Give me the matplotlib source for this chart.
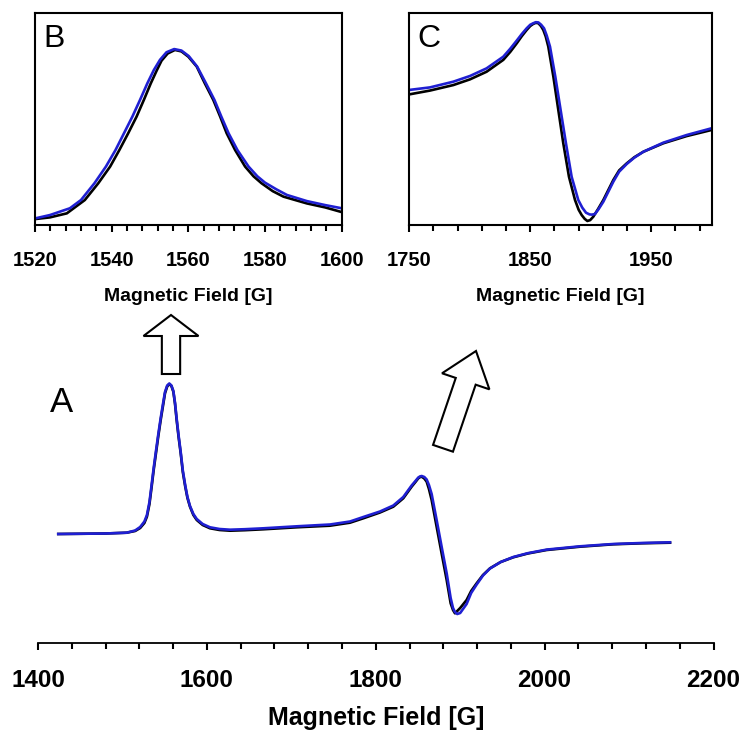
import matplotlib
matplotlib.use('Agg')
import matplotlib.pyplot as plt
import numpy as np
from matplotlib.patches import FancyArrow

BLACK = '#000000'
BLUE = '#1f1fd2'

plt.rcParams['font.family'] = ['Liberation Sans', 'DejaVu Sans']

# Panel A: full spectrum (arbitrary intensity units)
field_a = [1424, 1480, 1505, 1515, 1521, 1526, 1529, 1532, 1534.6, 1537, 1539.7, 1542.5,
           1545.3, 1548, 1550.4, 1553, 1555.5, 1558, 1560.3, 1562.3, 1564.2, 1566.5, 1569,
           1571.5, 1574.4, 1577, 1580, 1584, 1588, 1595, 1603.7, 1615, 1627.4, 1645, 1666.8,
           1706.4, 1745.8, 1769.5, 1785.3, 1805, 1820.8, 1832.6, 1842.5, 1847, 1850.4, 1852.5,
           1854.4, 1857.5, 1860.3, 1863, 1866.2, 1872.1, 1878, 1884, 1888.7, 1891.5, 1893.8,
           1896.5, 1900, 1907.6, 1913, 1919.5, 1927, 1935.3, 1948, 1962.9, 1980, 2002.4,
           2041.9, 2081.4, 2115, 2148.5]
black_a = [0, 0.5, 1.3, 3, 6, 11, 17.3, 30, 47.3, 64, 80.7, 98,
           114, 128, 140.7, 147.5, 150, 148, 142.3, 130, 114, 97, 80.7,
           62, 47.3, 36, 27.3, 19, 14, 9, 5.7, 4, 3.3, 3.8, 4.7,
           6.7, 8.3, 11.3, 15.7, 21.5, 27.3, 35.7, 47.3, 52, 55.7, 56.9,
           57.3, 55.5, 52.3, 45, 34, 7.3, -19.3, -46, -69.3, -76, -79.3,
           -77, -74, -66, -57, -49.3, -41, -34.3, -28, -23.3, -19.5, -16,
           -12.7, -10.3, -9.3, -8.7]
blue_a = [0, 0.5, 1.3, 3.5, 7, 12.5, 19, 32, 49.5, 66, 83, 100,
          116, 130, 142, 148.5, 150.5, 148.5, 143, 131, 115.5, 98.5, 82,
          63.5, 48.5, 37, 28, 20, 15, 10, 6.7, 5, 4.3, 4.8, 5.7,
          7.7, 9.5, 12.5, 17, 22.5, 28.5, 37, 48.5, 53, 56.5, 57.6,
          58, 57, 54.5, 49, 40, 14, -12.6, -39.3, -64, -74, -78,
          -80, -79, -70, -59, -50.5, -41.5, -34.5, -28, -23, -19.2, -15.6,
          -12.3, -10, -9, -8.3]

# Panel B: zoom on the 1556 G line (percent of panel height)
field_b_black = [1520.0, 1523.9, 1528.3, 1533.0, 1536.5, 1539.6, 1542.0, 1544.3, 1546.5,
                 1548.4, 1550.2, 1551.7, 1553.0, 1554.6, 1556.5, 1558.2, 1560.0, 1562.2,
                 1564.3, 1566.5, 1568.3, 1570.0, 1572.2, 1574.8, 1577.0, 1579.1, 1582.0,
                 1584.8, 1590.9, 1595.7, 1600.0]
black_b = [2.8, 3.6, 5.5, 11.8, 19.7, 27.6, 35.4, 43.3, 51.2,
           59.1, 66.9, 72.8, 77.6, 81.0, 82.7, 82.0, 79.5, 74.8,
           66.9, 59.1, 51.2, 43.3, 35.4, 27.6, 23.0, 19.7, 16.0,
           13.4, 10.2, 8.3, 6.1]
field_b_blue = [1520.0, 1523.9, 1529.1, 1532.0, 1535.5, 1538.5, 1541.0, 1543.2, 1545.4,
                1547.4, 1549.3, 1551.0, 1552.6, 1554.3, 1556.3, 1558.2, 1560.1, 1562.3,
                1564.6, 1566.8, 1568.6, 1570.5, 1572.8, 1575.7, 1578.0, 1580.0, 1583.0,
                1585.7, 1590.9, 1595.7, 1600.0]
blue_b = [3.1, 4.7, 7.9, 11.8, 19.7, 27.6, 35.4, 43.3, 51.2,
          59.1, 66.9, 73.2, 78.0, 81.6, 83.1, 82.4, 79.8, 74.8,
          66.9, 59.1, 51.2, 43.3, 35.4, 27.6, 23.0, 20.0, 16.8,
          14.2, 11.3, 9.4, 7.9]

# Panel C: zoom on the derivative-shaped line (percent of panel height)
field_c_black = [1750.0, 1767.1, 1786.4, 1800.2, 1813.9, 1827.7, 1833.5, 1838.8, 1843.0,
                 1847.0, 1850.0, 1852.5, 1854.6, 1856.7, 1858.8, 1860.8, 1862.8, 1864.9,
                 1869.1, 1873.2, 1877.3, 1882.0, 1887.0, 1890.0, 1892.5, 1895.0, 1897.2,
                 1899.5, 1902.1, 1906.0, 1910.4, 1918.7, 1923.5, 1929.7, 1936.0, 1943.5,
                 1960.0, 1979.3, 2000.0]
black_c = [61.7, 63.5, 66.1, 68.8, 72.4, 78.0, 81.8, 85.8, 89.2,
           92.1, 94.0, 95.0, 95.5, 95.3, 94.0, 92.1, 89.0, 84.3,
           70.1, 54.3, 38.6, 22.8, 11.8, 7.2, 4.7, 2.9, 1.9,
           2.3, 3.9, 7.5, 11.8, 21.3, 25.8, 29.1, 32.0, 34.6,
           38.6, 42.0, 44.9]
field_c_blue = [1750.0, 1767.1, 1786.4, 1800.2, 1813.9, 1827.7, 1833.5, 1838.8, 1843.0,
                1847.0, 1850.0, 1852.5, 1854.6, 1856.7, 1859.0, 1861.4, 1863.6, 1866.3,
                1870.7, 1875.1, 1879.5, 1884.2, 1889.7, 1893.0, 1896.1, 1899.0, 1901.0,
                1903.5, 1906.5, 1910.4, 1918.7, 1923.5, 1929.7, 1936.0, 1943.5, 1960.0,
                1979.3, 2000.0]
blue_c = [63.8, 65.0, 67.7, 70.4, 74.0, 79.5, 83.3, 87.1, 90.2,
          92.9, 94.6, 95.3, 95.8, 95.7, 94.6, 92.9, 89.5, 84.3,
          70.1, 54.3, 38.6, 22.8, 11.8, 8.2, 5.8, 5.0, 4.9,
          5.2, 7.5, 11.0, 20.5, 25.2, 28.8, 31.8, 34.6, 38.9,
          42.5, 45.7]

W, H = 752.0, 747.0


def px_axes(fig, left, top, right, bottom):
    return fig.add_axes([left / W, (H - bottom) / H, (right - left) / W, (bottom - top) / H])


fig = plt.figure(figsize=(7.52, 7.47), dpi=100)

# ---- inset panels B and C ----
ax_b = px_axes(fig, 35, 13.3, 341.7, 225)
ax_c = px_axes(fig, 409.3, 13.3, 711.7, 225)

for ax, fb, yb, fu, yu, lim, majors, minors, letter in [
        (ax_b, field_b_black, black_b, field_b_blue, blue_b, (1520, 1600),
         np.arange(1520, 1601, 20), np.arange(1520, 1601, 4), 'B'),
        (ax_c, field_c_black, black_c, field_c_blue, blue_c, (1750, 2000),
         [1750, 1850, 1950], np.arange(1750, 2000, 20), 'C')]:
    ax.plot(fb, yb, color=BLACK, lw=1.9, solid_joinstyle='round')
    ax.plot(fu, yu, color=BLUE, lw=1.9, solid_joinstyle='round')
    ax.set_xlim(*lim)
    ax.set_ylim(0, 100)
    ax.set_xticks(majors)
    ax.set_xticks(minors, minor=True)
    ax.set_yticks([])
    ax.tick_params(axis='x', which='major', direction='out', length=5, width=1.5, pad=14,
                   labelsize=14.5)
    ax.tick_params(axis='x', which='minor', direction='out', length=4, width=1.5)
    for lbl in ax.get_xticklabels():
        lbl.set_fontweight('bold')
    for sp in ax.spines.values():
        sp.set_linewidth(1.5)
    ax.set_xlabel('Magnetic Field [G]', fontsize=14, fontweight='bold', labelpad=13)
    ax.text(0.027, 0.95, letter, transform=ax.transAxes, ha='left', va='top', fontsize=23)

# ---- main panel A ----
ax_a = px_axes(fig, 38, 320, 713.5, 642.7)
ax_a.plot(field_a, black_a, color=BLACK, lw=1.9, solid_joinstyle='round')
ax_a.plot(field_a, blue_a, color=BLUE, lw=1.9, solid_joinstyle='round')
ax_a.set_xlim(1400, 2200)
ax_a.set_ylim(-108.7, 214)
ax_a.set_xticks(np.arange(1400, 2201, 200))
ax_a.set_xticks(np.arange(1400, 2201, 40), minor=True)
ax_a.set_yticks([])
ax_a.tick_params(axis='x', which='major', direction='out', length=5, width=1.5, pad=14,
                 labelsize=17.5)
ax_a.tick_params(axis='x', which='minor', direction='out', length=4, width=1.5)
for lbl in ax_a.get_xticklabels():
    lbl.set_fontweight('bold')
for sp in ['top', 'left', 'right']:
    ax_a.spines[sp].set_visible(False)
ax_a.spines['bottom'].set_linewidth(1.3)
ax_a.set_xlabel('Magnetic Field [G]', fontsize=18, fontweight='bold', labelpad=10)
ax_a.patch.set_alpha(0)

fig.text(50 / W, 1 - 386 / H, 'A', ha='left', va='top', fontsize=25)

# open arrows pointing to the zoomed panels (positions in inches)
arrow_kw = dict(length_includes_head=True, fc='white', ec='black', lw=1.5,
                transform=fig.dpi_scale_trans)
fig.patches.append(FancyArrow(1.71, (H - 374) / 100, 0, 0.59, width=0.183,
                              head_width=0.55, head_length=0.21, **arrow_kw))
fig.patches.append(FancyArrow(4.43, (H - 448.3) / 100, 0.33, 0.973, width=0.21,
                              head_width=0.5, head_length=0.32, **arrow_kw))

fig.savefig('out.png', dpi=100, facecolor='white')
